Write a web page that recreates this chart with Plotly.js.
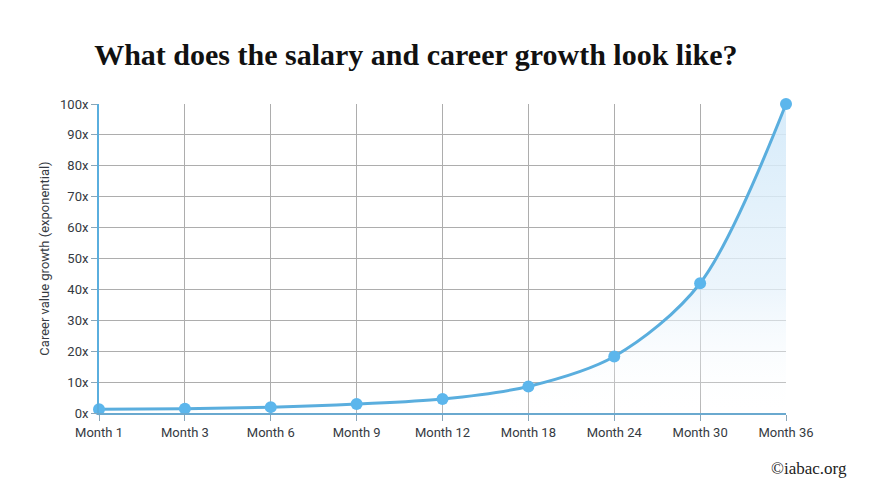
<!DOCTYPE html>
<html>
<head>
<meta charset="utf-8">
<script src="https://cdn.plot.ly/plotly-3.0.1.min.js"></script>
<style>
  html, body { margin: 0; padding: 0; background: #ffffff; }
  #chart { width: 870px; height: 488px; }
</style>
</head>
<body>
<div id="chart"></div>
<script>
// Career value multiple at each milestone
const months = ["Month 1", "Month 3", "Month 6", "Month 9", "Month 12", "Month 18", "Month 24", "Month 30", "Month 36"];
const growth = [1.2, 1.4, 1.9, 2.9, 4.5, 8.6, 18.3, 42, 100];
const yTickVals = [0, 10, 20, 30, 40, 50, 60, 70, 80, 90, 100];
const yTickText = ["0x", "10x", "20x", "30x", "40x", "50x", "60x", "70x", "80x", "90x", "100x"];

const lineBlue = "#5aaede";
const markerBlue = "#5cb6ec";

const trace = {
  x: months,
  y: growth,
  type: "scatter",
  mode: "lines+markers",
  line: { color: lineBlue, width: 3, shape: "spline", smoothing: 0.9 },
  marker: { color: markerBlue, size: 12 },
  fill: "tozeroy",
  fillgradient: {
    type: "vertical",
    colorscale: [[0, "rgba(255,255,255,0.1)"], [0.4, "rgba(230,242,251,0.75)"], [1, "rgba(210,233,249,0.9)"]]
  },
  cliponaxis: false,
  hoverinfo: "skip"
};

const layout = {
  width: 870,
  height: 488,
  margin: { l: 99, r: 84, t: 104, b: 75 },
  paper_bgcolor: "#ffffff",
  plot_bgcolor: "#ffffff",
  showlegend: false,
  title: {
    text: "<b>What does the salary and career growth look like?</b>",
    font: { family: "Liberation Serif, DejaVu Serif, serif", size: 30, color: "#111111" },
    x: 0.478, xanchor: "center",
    y: 0.888, yanchor: "middle"
  },
  xaxis: {
    type: "category",
    range: [0, 8],
    showgrid: true,
    gridcolor: "#adadad",
    gridwidth: 1,
    showline: true,
    linecolor: "#6aa9cf",
    linewidth: 2,
    ticks: "outside",
    ticklen: 6,
    tickcolor: "#8aa6b8",
    tickfont: { family: "Roboto, sans-serif", size: 13, color: "#353a42" },
    zeroline: false,
    fixedrange: true
  },
  yaxis: {
    range: [0, 100],
    tickvals: yTickVals,
    ticktext: yTickText,
    showgrid: true,
    gridcolor: "#adadad",
    gridwidth: 1,
    showline: true,
    linecolor: lineBlue,
    linewidth: 2,
    ticks: "outside",
    ticklen: 6,
    tickcolor: "#8aa6b8",
    tickfont: { family: "Roboto, sans-serif", size: 13, color: "#353a42" },
    zeroline: false,
    title: {
      text: "Career value growth (exponential)",
      font: { family: "Roboto, sans-serif", size: 13, color: "#353a42" },
      standoff: 7
    },
    fixedrange: true
  },
  annotations: [{
    text: "©iabac.org",
    xref: "paper", yref: "paper",
    x: 1.092, y: -0.178,
    xanchor: "right", yanchor: "middle",
    showarrow: false,
    font: { family: "Liberation Serif, DejaVu Serif, serif", size: 17, color: "#222222" }
  }]
};

Plotly.newPlot("chart", [trace], layout, { displayModeBar: false, staticPlot: true });
</script>
</body>
</html>
